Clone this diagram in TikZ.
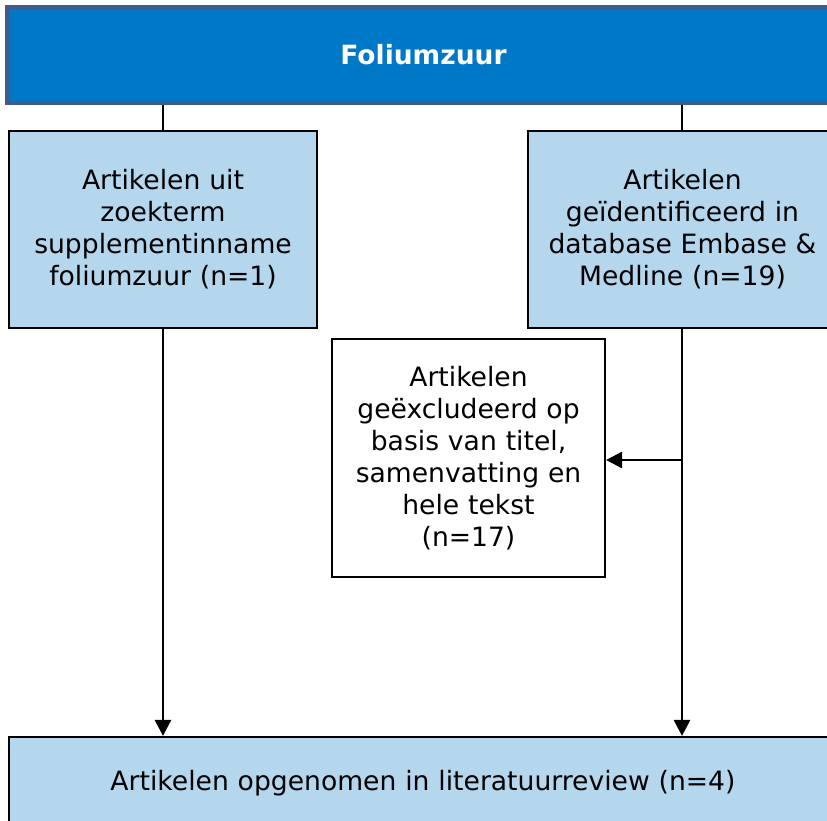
\documentclass[tikz,border=0pt]{standalone}
\usepackage{fontspec}
\setmainfont{DejaVu Sans}
\usetikzlibrary{arrows.meta}
\definecolor{topfill}{HTML}{0078C8}
\definecolor{topline}{HTML}{3D5C8C}
\definecolor{lightbox}{HTML}{B4D7EE}
\tikzset{
  x=1pt,y=-1pt,
  txt/.style={font=\fontsize{26.6}{32}\selectfont, align=center, inner sep=0pt},
  bluebox/.style={draw=black, line width=2.2pt, fill=lightbox, txt},
  whitebox/.style={draw=black, line width=2.2pt, fill=white, txt},
  conn/.style={draw=black, line width=2.8pt},
  arr/.style={conn, -{Triangle[width=16pt,length=16pt]}},
}
\begin{document}
\begin{tikzpicture}
\clip (0,0) rectangle (827,821);
\fill[white] (0,0) rectangle (827,821);
\node[draw=topline, line width=3.5pt, fill=topfill, minimum width=833pt, minimum height=96pt, inner sep=0pt,
  text=white, font=\fontsize{26.5}{30}\selectfont\bfseries] (top) at (423.5,55) {Foliumzuur};
\node[bluebox, minimum width=308pt, minimum height=197pt, text width=300pt] (left) at (163,229.5)
  {Artikelen uit\\zoekterm\\supplementinname\\foliumzuur (n=1)};
\node[bluebox, minimum width=309pt, minimum height=197pt, text width=300pt] (right) at (682.5,229.5)
  {Artikelen\\geïdentificeerd in\\database Embase \&\\Medline (n=19)};
\node[whitebox, minimum width=273pt, minimum height=238pt, text width=265pt] (mid) at (468.5,458)
  {Artikelen\\geëxcludeerd op\\basis van titel,\\samenvatting en\\hele tekst\\(n=17)};
\node[bluebox, minimum width=828pt, minimum height=92pt, text width=800pt] (bot) at (423,783)
  {Artikelen opgenomen in literatuurreview (n=4)};
\coordinate (lx) at (163,0);
\coordinate (rx) at (682,0);
\coordinate (mj) at (682,460);
\draw[conn] (top.south -| lx) -- (left.north -| lx);
\draw[conn] (top.south -| rx) -- (right.north -| rx);
\draw[arr] (left.south -| lx) -- (bot.north -| lx);
\draw[arr] (right.south -| rx) -- (bot.north -| rx);
\draw[arr] (mj) -- (mid.east |- mj);
\end{tikzpicture}
\end{document}
